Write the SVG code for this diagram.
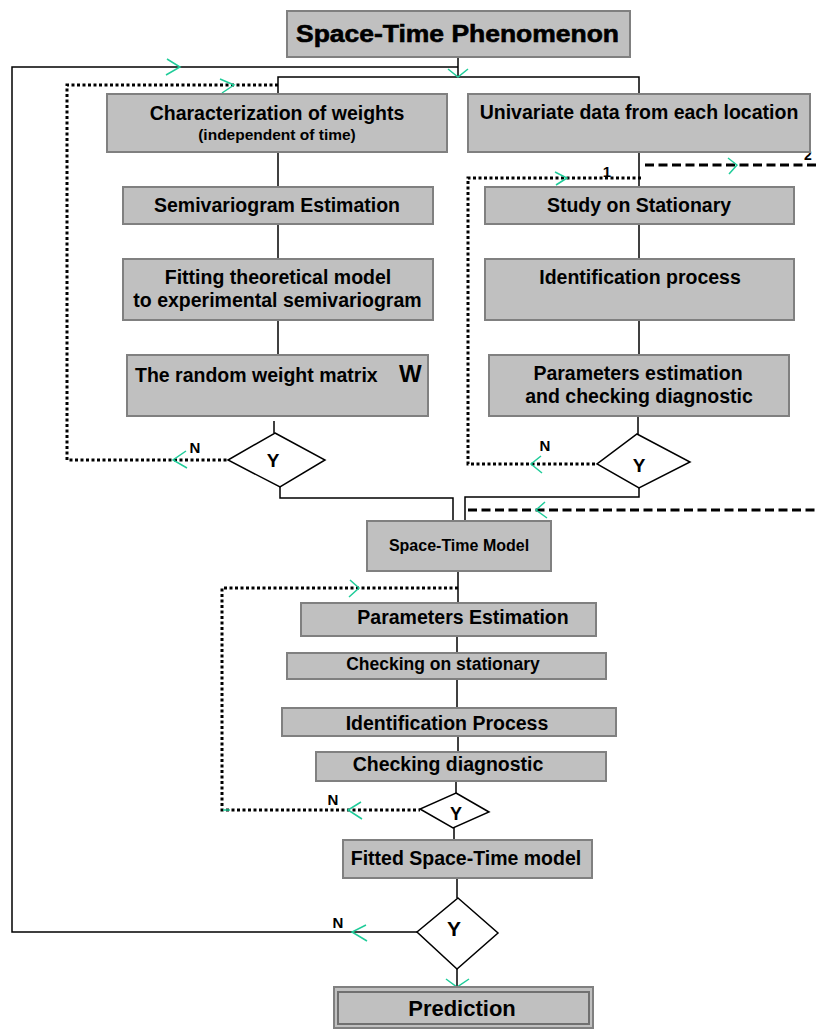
<svg xmlns="http://www.w3.org/2000/svg" width="817" height="1030" viewBox="0 0 817 1030">
<defs>
<style>
.box{fill:#c0c0c0;stroke:#808080;stroke-width:2}
.dia{fill:#fff;stroke:#000;stroke-width:1.5}
.ln{fill:none;stroke:#000;stroke-width:1.5}
.dot{fill:none;stroke:#000;stroke-width:3;stroke-dasharray:3 2.5}
.dash{fill:none;stroke:#000;stroke-width:3;stroke-dasharray:9 4.5}
.ah{fill:none;stroke:#1fcc99;stroke-width:1.5}
text{font-family:"Liberation Sans",Arial,sans-serif;font-weight:bold;fill:#000}
.t{font-size:19.5px;text-anchor:middle}
.c{text-anchor:middle}
</style>
</defs>
<rect width="817" height="1030" fill="#fff"/>
<g id="connectors">
<!-- solid lines -->
<polyline class="ln" points="458,57 458,77"/>
<polyline class="ln" points="458,67 12,67 12,932 417,932"/>
<polyline class="ln" points="278,94 278,77 639,77 639,94"/>
<line class="ln" x1="278" y1="152" x2="278" y2="355"/>
<line class="ln" x1="274" y1="421" x2="274" y2="433"/>
<polyline class="ln" points="280,487 280,498 453,498 453,521"/>
<line class="ln" x1="639" y1="152" x2="639" y2="187"/>
<line class="ln" x1="639" y1="224" x2="639" y2="355"/>
<line class="ln" x1="638" y1="416" x2="638" y2="434"/>
<polyline class="ln" points="639,488 639,497 465,497 465,521"/>
<line class="ln" x1="458" y1="571" x2="458" y2="603"/>
<line class="ln" x1="457" y1="636" x2="457" y2="653"/>
<line class="ln" x1="457" y1="679" x2="457" y2="708"/>
<line class="ln" x1="458" y1="736" x2="458" y2="752"/>
<line class="ln" x1="456" y1="781" x2="456" y2="793"/>
<line class="ln" x1="454" y1="828" x2="454" y2="840"/>
<line class="ln" x1="457" y1="878" x2="457" y2="898"/>
<line class="ln" x1="457" y1="969" x2="457" y2="987"/>
<!-- dotted loops -->
<polyline class="dot" points="278,85 67,85 67,460 228,460"/>
<polyline class="dot" points="641,178 468,178 468,464 597,464"/>
<polyline class="dot" points="458,588 222,588 222,810 420,810"/>
<!-- dashed -->
<line class="dash" x1="645" y1="165" x2="817" y2="165"/>
<line class="dash" x1="468" y1="510" x2="817" y2="510"/>
<!-- arrowheads -->
<polyline class="ah" points="167,59 180,67 166,75"/>
<polyline class="ah" points="448,69 458,77 468,69"/>
<polyline class="ah" points="220,79 234,85 222,93"/>
<polyline class="ah" points="728,158 737,165 729,174"/>
<polyline class="ah" points="555,172 567,178 556,185"/>
<polyline class="ah" points="186,451 173,460 187,468"/>
<polyline class="ah" points="541,456 531,464 542,473"/>
<polyline class="ah" points="545,502 536,510 547,518"/>
<polyline class="ah" points="350,580 359,588 349,597"/>
<polyline class="ah" points="361,802 348,810 362,819"/>
<line class="ah" x1="223" y1="810" x2="230" y2="810"/>
<polyline class="ah" points="366,925 352,932 367,941"/>
<polyline class="ah" points="446,979 457,987 469,979"/>
<!-- labels -->
<text x="195" y="453" class="c" font-size="15">N</text>
<text x="545" y="451" class="c" font-size="15">N</text>
<text x="333" y="805" class="c" font-size="15">N</text>
<text x="338" y="928" class="c" font-size="15">N</text>
<text x="607" y="177" class="c" font-size="15">1</text>
<text x="804" y="160" font-size="14">2</text>
</g>
<g id="n-phenomenon">
<rect class="box" x="287" y="11" width="343" height="46"/>
<text x="457.5" y="42" class="c" font-size="23" textLength="323" lengthAdjust="spacingAndGlyphs" stroke="#000" stroke-width="0.6">Space-Time Phenomenon</text>
</g>
<g id="n-weights">
<rect class="box" x="107" y="94" width="340" height="58"/>
<text x="277" y="120" class="t">Characterization of weights</text>
<text x="277" y="140" class="c" font-size="15.5">(independent of time)</text>
</g>
<g id="n-semivariogram">
<rect class="box" x="123" y="187" width="310" height="37"/>
<text x="277" y="212" class="t">Semivariogram Estimation</text>
</g>
<g id="n-fitting">
<rect class="box" x="123" y="259" width="310" height="61"/>
<text x="278" y="284" class="t">Fitting theoretical model</text>
<text x="277.5" y="307" class="t">to experimental semivariogram</text>
</g>
<g id="n-matrix">
<rect class="box" x="127" y="355" width="301" height="61"/>
<text x="135" y="382" font-size="19.5">The random weight matrix</text>
<text x="399" y="382" font-size="24">W</text>
</g>
<g id="n-dec-left">
<polygon class="dia" points="275,433 325,460 280,487 228,460"/>
<text x="273" y="467" class="c" font-size="19">Y</text>
</g>
<g id="n-univariate">
<rect class="box" x="468" y="94" width="342" height="58"/>
<text x="639" y="119" class="t">Univariate data from each location</text>
</g>
<g id="n-study">
<rect class="box" x="485" y="187" width="309" height="37"/>
<text x="639" y="212" class="t">Study on Stationary</text>
</g>
<g id="n-identification">
<rect class="box" x="485" y="259" width="309" height="61"/>
<text x="640" y="284" class="t">Identification process</text>
</g>
<g id="n-params-diag">
<rect class="box" x="489" y="355" width="300" height="61"/>
<text x="638" y="380" class="t">Parameters estimation</text>
<text x="639" y="403" class="t">and checking diagnostic</text>
</g>
<g id="n-dec-right">
<polygon class="dia" points="637,434 690,462 639,488 597,464"/>
<text x="639" y="472" class="c" font-size="19">Y</text>
</g>
<g id="n-stmodel">
<rect class="box" x="367" y="521" width="184" height="50"/>
<text x="459" y="551" class="c" font-size="16">Space-Time Model</text>
</g>
<g id="n-paramest">
<rect class="box" x="301" y="603" width="295" height="33"/>
<text x="463" y="624" class="t">Parameters Estimation</text>
</g>
<g id="n-checkstat">
<rect class="box" x="287" y="653" width="319" height="26"/>
<text x="443" y="670" class="c" font-size="17.5">Checking on stationary</text>
</g>
<g id="n-idproc">
<rect class="box" x="282" y="708" width="334" height="28"/>
<text x="447" y="730" class="t">Identification Process</text>
</g>
<g id="n-checkdiag">
<rect class="box" x="316" y="752" width="290" height="29"/>
<text x="448" y="771" class="t">Checking diagnostic</text>
</g>
<g id="n-dec-mid">
<polygon class="dia" points="456,793 489,812 453,828 420,809"/>
<text x="456" y="820" class="c" font-size="18">Y</text>
</g>
<g id="n-fitted">
<rect class="box" x="343" y="840" width="249" height="38"/>
<text x="466" y="865" class="t">Fitted Space-Time model</text>
</g>
<g id="n-dec-bottom">
<polygon class="dia" points="458,898 498,933 457,969 417,932"/>
<text x="454" y="936" class="c" font-size="21">Y</text>
</g>
<g id="n-prediction">
<rect class="box" x="334" y="987" width="259" height="41"/>
<rect x="338" y="992" width="251" height="32" fill="none" stroke="#707070" stroke-width="2"/>
<text x="462" y="1016" class="c" font-size="22">Prediction</text>
</g>
</svg>
